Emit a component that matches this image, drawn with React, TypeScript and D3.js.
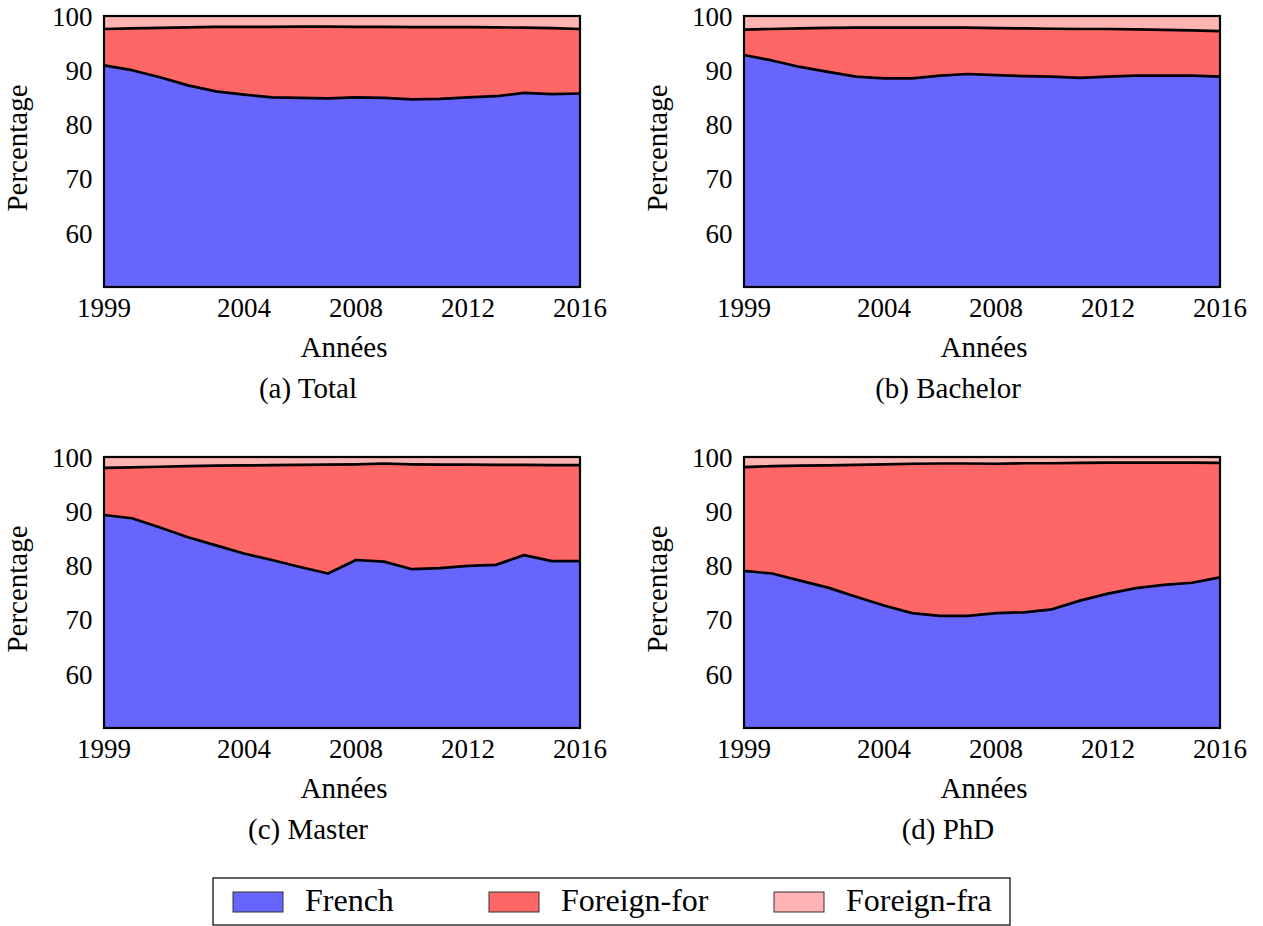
import * as d3 from "d3";
import React from "react";

// years on the x axis
const years = d3.range(1999, 2017);
const yearTicks = [1999, 2004, 2008, 2012, 2016];
const pctTicks = [60, 70, 80, 90, 100];

const seriesKeys = ["French", "Foreign-for", "Foreign-fra"];
const colors: Record<string, string> = {
  French: "#6666ff",
  "Foreign-for": "#ff6666",
  "Foreign-fra": "#ffb3b3",
};

// (a) Total
const totalFrench = [90.9, 90.0, 88.7, 87.2, 86.1, 85.5, 85.0, 84.9, 84.8, 85.0, 84.9, 84.6, 84.7, 85.0, 85.2, 85.8, 85.6, 85.7];
const totalForeignFor = [6.7, 7.7, 9.1, 10.7, 11.9, 12.5, 13.0, 13.15, 13.25, 13.0, 13.1, 13.35, 13.25, 12.95, 12.7, 12.05, 12.15, 11.9];
const totalForeignFra = [2.4, 2.3, 2.2, 2.1, 2.0, 2.0, 2.0, 1.95, 1.95, 2.0, 2.0, 2.05, 2.05, 2.05, 2.1, 2.15, 2.25, 2.4];

// (b) Bachelor
const bachelorFrench = [92.8, 91.8, 90.6, 89.7, 88.8, 88.5, 88.5, 89.0, 89.3, 89.1, 88.9, 88.8, 88.6, 88.8, 89.0, 89.0, 89.0, 88.8];
const bachelorForeignFor = [4.7, 5.8, 7.1, 8.1, 9.05, 9.35, 9.35, 8.85, 8.55, 8.65, 8.8, 8.85, 9.0, 8.8, 8.55, 8.45, 8.35, 8.4];
const bachelorForeignFra = [2.5, 2.4, 2.3, 2.2, 2.15, 2.15, 2.15, 2.15, 2.15, 2.25, 2.3, 2.35, 2.4, 2.4, 2.45, 2.55, 2.65, 2.8];

// (c) Master
const masterFrench = [89.3, 88.7, 87.0, 85.2, 83.7, 82.2, 81.0, 79.7, 78.5, 81.0, 80.7, 79.3, 79.5, 79.9, 80.1, 81.9, 80.8, 80.8];
const masterForeignFor = [8.7, 9.4, 11.2, 13.1, 14.7, 16.25, 17.5, 18.85, 20.1, 17.65, 18.1, 19.35, 19.1, 18.7, 18.45, 16.65, 17.7, 17.7];
const masterForeignFra = [2.0, 1.9, 1.8, 1.7, 1.6, 1.55, 1.5, 1.45, 1.4, 1.35, 1.2, 1.35, 1.4, 1.4, 1.45, 1.45, 1.5, 1.5];

// (d) PhD
const phdFrench = [79.0, 78.5, 77.2, 75.9, 74.2, 72.6, 71.2, 70.7, 70.7, 71.2, 71.35, 71.9, 73.5, 74.8, 75.8, 76.4, 76.8, 77.8];
const phdForeignFor = [19.15, 19.8, 21.2, 22.55, 24.35, 26.05, 27.55, 28.1, 28.1, 27.55, 27.5, 26.95, 25.4, 24.15, 23.15, 22.55, 22.15, 21.1];
const phdForeignFra = [1.85, 1.7, 1.6, 1.55, 1.45, 1.35, 1.25, 1.2, 1.2, 1.25, 1.15, 1.15, 1.1, 1.05, 1.05, 1.05, 1.05, 1.1];

const panels = [
  { caption: "(a) Total", french: totalFrench, ff: totalForeignFor, fr: totalForeignFra, x: 104, y: 16 },
  { caption: "(b) Bachelor", french: bachelorFrench, ff: bachelorForeignFor, fr: bachelorForeignFra, x: 744, y: 16 },
  { caption: "(c) Master", french: masterFrench, ff: masterForeignFor, fr: masterForeignFra, x: 104, y: 457 },
  { caption: "(d) PhD", french: phdFrench, ff: phdForeignFor, fr: phdForeignFra, x: 744, y: 457 },
];

const W = 476;
const H = 271;
const FONT = "Liberation Serif";
const txt = (size: number) => ({ fontFamily: FONT, fontSize: size });

function Panel({ p }: { p: (typeof panels)[number] }) {
  const x = d3.scaleLinear().domain([1999, 2016]).range([0, W]);
  const y = d3.scaleLinear().domain([50, 100]).range([H, 0]).clamp(true);

  const rows = years.map((yr, i) => ({
    year: yr,
    French: p.french[i],
    "Foreign-for": p.ff[i],
    "Foreign-fra": p.fr[i],
  }));
  const stacked = d3.stack<any>().keys(seriesKeys)(rows);

  const area = d3
    .area<any>()
    .x((d) => x(d.data.year))
    .y0((d) => y(d[0]))
    .y1((d) => y(d[1]));
  const line = d3
    .line<any>()
    .x((d) => x(d.data.year))
    .y((d) => y(d[1]));

  return (
    <g transform={`translate(${p.x},${p.y})`}>
      {stacked.map((s) => (
        <path key={s.key} d={area(s) ?? ""} fill={colors[s.key]} />
      ))}
      {stacked.slice(0, 2).map((s) => (
        <path key={"l" + s.key} d={line(s) ?? ""} fill="none" stroke="#000" strokeWidth={2.7} strokeLinejoin="round" />
      ))}
      <rect x={0} y={0} width={W} height={H} fill="none" stroke="#000" strokeWidth={2.2} />
      {pctTicks.map((t) => (
        <text key={t} x={-11.5} y={y(t)} dy="0.36em" textAnchor="end" style={txt(27)}>
          {t}
        </text>
      ))}
      {yearTicks.map((t) => (
        <text key={t} x={x(t)} y={H + 30} textAnchor="middle" style={txt(27)}>
          {t}
        </text>
      ))}
      <text transform={`translate(${-77},${132}) rotate(-90)`} textAnchor="middle" style={txt(29)}>
        Percentage
      </text>
      <text x={W / 2 + 2} y={H + 70} textAnchor="middle" style={txt(29)}>
        Années
      </text>
      <text x={W / 2 - 34} y={H + 111} textAnchor="middle" style={txt(29)}>
        {p.caption}
      </text>
    </g>
  );
}

export default function App() {
  const legendX = [233, 489, 774];
  return (
    <svg
      width={1263}
      height={926}
      style={{ position: "absolute", left: 0, top: 0, background: "#fff" }}
    >
      {panels.map((p) => (
        <Panel key={p.caption} p={p} />
      ))}
      <rect x={213} y={878} width={797} height={47} fill="#fff" stroke="#000" strokeWidth={1.2} />
      {seriesKeys.map((k, i) => (
        <g key={k}>
          <rect x={legendX[i]} y={892} width={50} height={20} fill={colors[k]} stroke="#333" strokeWidth={1} />
          <text x={legendX[i] + 72} y={911} style={txt(32)}>
            {k}
          </text>
        </g>
      ))}
    </svg>
  );
}
